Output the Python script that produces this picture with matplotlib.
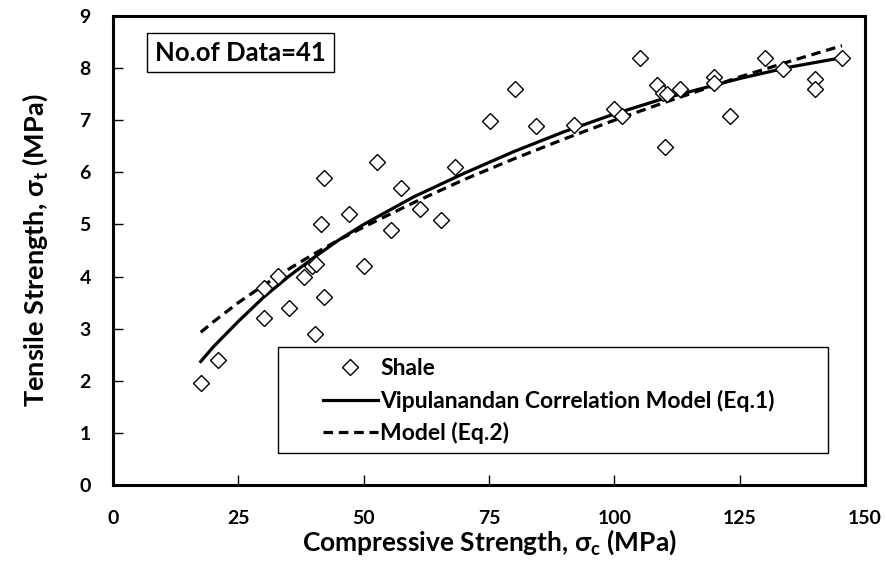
import numpy as np
import matplotlib
matplotlib.use('Agg')
from matplotlib import pyplot as plt
from matplotlib.patches import Rectangle

plt.rcParams['font.family'] = ['Lato', 'DejaVu Sans']
plt.rcParams['font.weight'] = 'bold'
plt.rcParams['mathtext.fontset'] = 'custom'
plt.rcParams['mathtext.rm'] = 'Lato:bold'
plt.rcParams['mathtext.it'] = 'Lato:bold'
plt.rcParams['mathtext.default'] = 'rm'

# measured data (shale), compressive vs tensile strength, MPa
sigma_c = [17.5, 20.9, 30.2, 30.2, 33.0, 35.2, 38.1, 39.6, 40.5, 40.2,
           41.4, 42.1, 42.1, 47.1, 50.1, 52.6, 57.4, 55.5, 61.2, 65.4,
           68.3, 75.1, 80.1, 84.3, 92.0, 100.0, 101.5, 105.1, 108.5, 109.8,
           110.5, 110.1, 113.1, 119.9, 119.9, 123.1, 130.1, 133.7, 140.0, 140.0,
           145.4]
sigma_t = [1.95, 2.39, 3.2, 3.78, 4.02, 3.39, 3.99, 4.2, 4.25, 2.9,
           5.0, 5.9, 3.6, 5.2, 4.2, 6.2, 5.69, 4.89, 5.3, 5.09,
           6.1, 6.99, 7.59, 6.89, 6.9, 7.21, 7.08, 8.19, 7.68, 7.53,
           7.5, 6.49, 7.59, 7.83, 7.71, 7.09, 8.2, 7.98, 7.79, 7.59,
           8.2]

# model curves
curve_x = [17.5, 20, 25, 30, 35, 40, 45, 50, 60, 70, 80, 90, 100, 110, 125, 135, 145.4]
eq1_y = [2.37, 2.65, 3.14, 3.6, 4.0, 4.36, 4.7, 5.0, 5.53, 5.98, 6.4, 6.78, 7.12, 7.42, 7.8, 8.02, 8.2]
eq2_y = [2.93, 3.13, 3.5, 3.83, 4.14, 4.43, 4.7, 4.95, 5.42, 5.86, 6.26, 6.64, 7.0, 7.34, 7.83, 8.13, 8.43]

fig = plt.figure(figsize=(8.87, 5.67), dpi=100)
ax = fig.add_axes([0.1274, 0.1446, 0.9752 - 0.1274, 0.9718 - 0.1446])

ax.plot(sigma_c, sigma_t, linestyle='none', marker='D', ms=7.8, mfc='white',
        mec='black', mew=1.0, label='Shale', zorder=3)
ax.plot(curve_x, eq1_y, color='black', lw=2.3, label='Vipulanandan Correlation Model (Eq.1)')
ax.plot(curve_x, eq2_y, color='black', lw=2.3, linestyle=(0, (3, 1.8)), label='Model (Eq.2)')

ax.set_xlim(0, 150)
ax.set_ylim(0, 9)
ax.set_xticks([0, 25, 50, 75, 100, 125, 150])
ax.set_yticks(range(10))
ax.tick_params(direction='in', length=7, width=1, labelsize=14, top=False, right=False)
ax.tick_params(axis='x', pad=18)
ax.tick_params(axis='y', pad=16)
for s in ax.spines.values():
    s.set_linewidth(2.2)

ax.set_xlabel('Compressive Strength, σ$_{c}$ (MPa)', fontsize=19, fontweight='bold', labelpad=0)
ax.set_ylabel('Tensile Strength, σ$_{t}$ (MPa)', fontsize=19.5, fontweight='bold', labelpad=21)

ax.text(0.1695, 0.922, 'No.of Data=41', transform=ax.transAxes, ha='center', va='center',
        fontsize=18.5, fontweight='bold',
        bbox=dict(boxstyle='square,pad=0.3', fc='white', ec='black', lw=1.0))

# legend box drawn by hand, entries placed inside
ax.add_patch(Rectangle((0.219, 0.068), 0.732, 0.226, transform=ax.transAxes,
                       fc='white', ec='black', lw=1.0, zorder=4))
leg = ax.legend(loc='upper left', bbox_to_anchor=(0.279, 0.271), fontsize=16.5,
                frameon=False, handlelength=2.4, borderaxespad=0, borderpad=0,
                labelspacing=0.46, handletextpad=0.1)
leg.set_zorder(5)

plt.savefig('out.png', dpi=100)
